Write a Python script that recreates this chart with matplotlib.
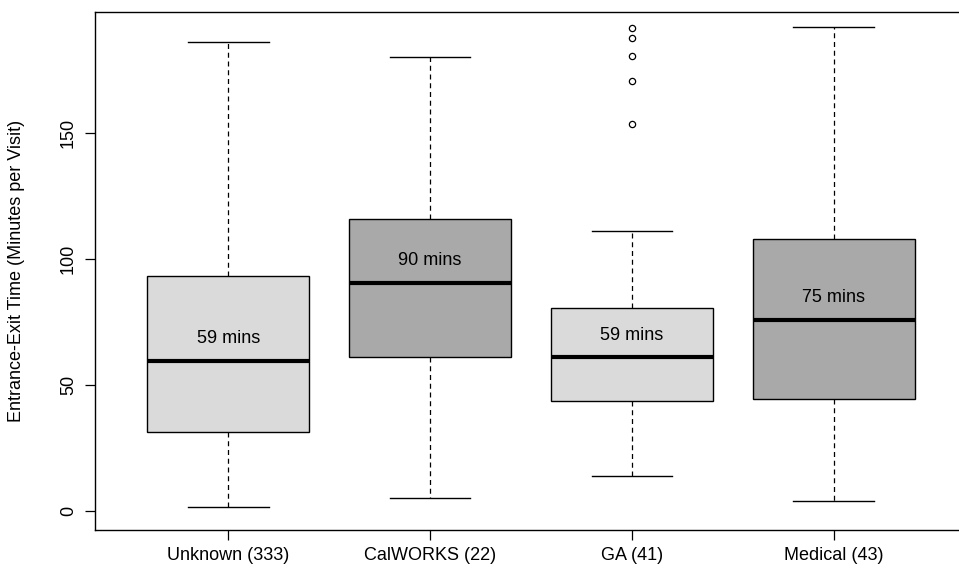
import matplotlib
matplotlib.use("Agg")
import matplotlib.pyplot as plt

# -------------------------
# Data
# -------------------------
categories = ["Unknown (333)", "CalWORKS (22)", "GA (41)", "Medical (43)"]
whisker_low = [1.5, 5.0, 14.0, 4.0]
q1 = [31.5, 61.0, 43.5, 44.5]
medians = [59.7, 90.5, 61.0, 76.0]
q3 = [93.3, 116.0, 80.5, 108.0]
whisker_high = [186.0, 180.0, 111.0, 192.0]
outliers = [[], [], [153.5, 170.5, 180.5, 187.5, 191.5], []]
median_labels = ["59 mins", "90 mins", "59 mins", "75 mins"]
fills = ["#dadada", "#a9a9a9", "#dadada", "#a9a9a9"]

plt.rcParams["font.family"] = ["Liberation Sans", "DejaVu Sans"]

fig = plt.figure(figsize=(9.59, 5.8), dpi=100)
# R-style plot region; the right edge runs off the scanned page
ax = fig.add_axes([95 / 959, 50 / 580, 872 / 959, 518 / 580])

stats = []
for i in range(len(categories)):
    stats.append({
        "whislo": whisker_low[i], "q1": q1[i], "med": medians[i],
        "q3": q3[i], "whishi": whisker_high[i], "fliers": outliers[i],
        "label": categories[i],
    })

positions = list(range(1, len(categories) + 1))
bp = ax.bxp(
    stats, positions=positions, widths=0.8, patch_artist=True,
    boxprops=dict(edgecolor="black", linewidth=1.0),
    medianprops=dict(color="black", linewidth=3.0, solid_capstyle="butt"),
    whiskerprops=dict(color="black", linewidth=0.9, linestyle=(0, (4, 3))),
    capprops=dict(color="black", linewidth=1.0),
    capwidths=0.4,
    flierprops=dict(marker="o", markersize=4.5, markerfacecolor="none",
                    markeredgecolor="black", markeredgewidth=0.9),
)
for patch, c in zip(bp["boxes"], fills):
    patch.set_facecolor(c)

for x, m, lab in zip(positions, medians, median_labels):
    ax.annotate(lab, (x, m), xytext=(0, 16), textcoords="offset points",
                ha="center", va="center", fontsize=13)

# R default axis ranges (4% padding around 1..n)
n = len(categories)
ax.set_ylim(-7.5, 198)
ax.set_xlim(0.5 - 0.04 * n, n + 0.5 + 0.04 * n)

ax.set_yticks([0, 50, 100, 150])
ax.set_yticklabels(["0", "50", "100", "150"], rotation=90, va="center")
ax.set_xticks(positions)
ax.set_xticklabels(categories)
ax.tick_params(axis="both", direction="out", length=7, width=0.9, labelsize=13)
ax.tick_params(axis="x", pad=5)
ax.tick_params(axis="y", pad=6)
ax.set_ylabel("Entrance-Exit Time (Minutes per Visit)", fontsize=13)
ax.yaxis.set_label_coords(-0.08, 0.5)

for s in ax.spines.values():
    s.set_linewidth(1.0)

fig.savefig("out.png", dpi=100)
